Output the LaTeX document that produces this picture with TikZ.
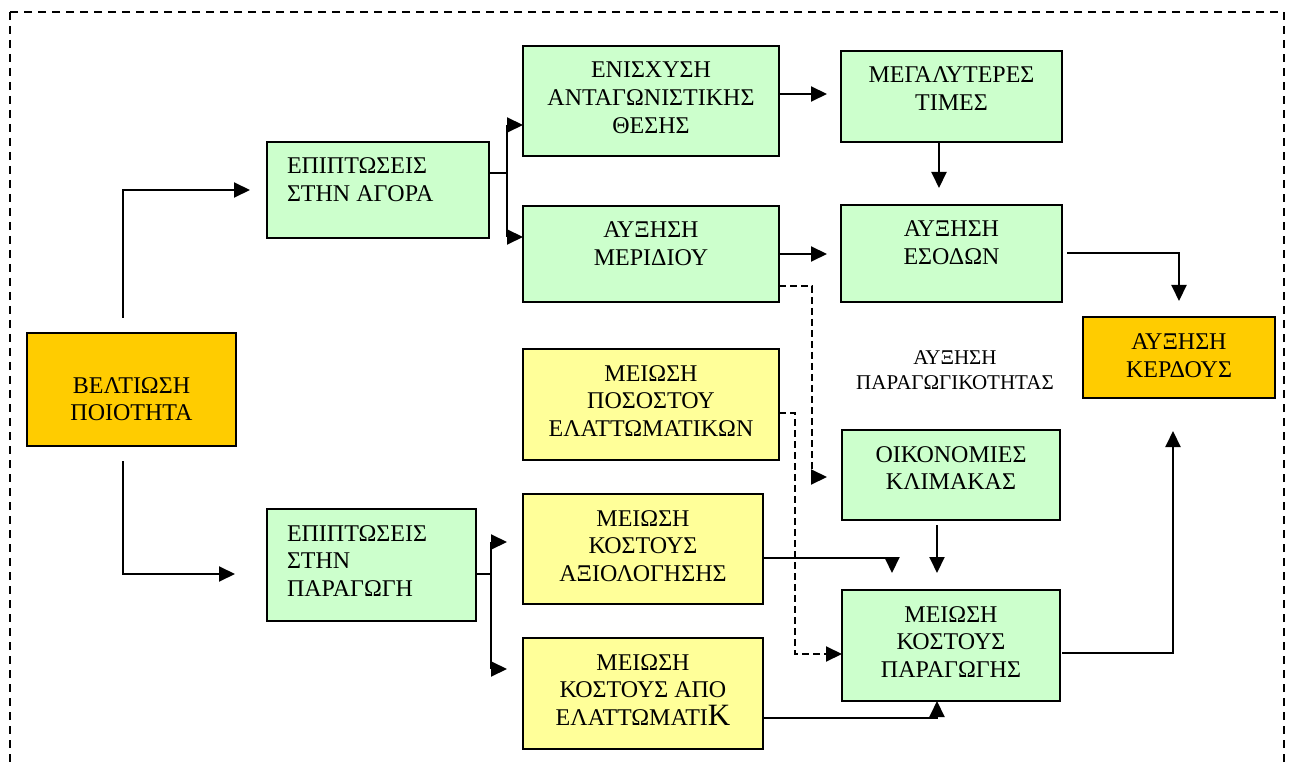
\documentclass[tikz,border=0pt]{standalone}
\usepackage{fontspec}
\setmainfont{Liberation Serif}
\usetikzlibrary{arrows.meta,calc}

\definecolor{boxgreen}{HTML}{CCFFCC}
\definecolor{boxyellow}{HTML}{FFFF99}
\definecolor{boxgold}{HTML}{FFCC00}

% Box contents: fixed size, text hung from the top edge
\newcommand{\cbox}[4][32pt]{\parbox[c][#3][t]{#2}{\centering\rule{0pt}{#1}#4\par}}
\newcommand{\lbox}[3]{\parbox[c][#2][t]{#1}{\raggedright\leftskip=20pt\rule{0pt}{32pt}#3\par}}

\begin{document}
\begin{tikzpicture}[x=1pt,y=-1pt,
  every node/.style={font=\fontsize{24}{27.6}\selectfont},
  box/.style={draw, line width=2pt, inner sep=0pt, outer sep=0pt},
  greenbox/.style={box, fill=boxgreen},
  yellowbox/.style={box, fill=boxyellow},
  goldbox/.style={box, fill=boxgold},
  link/.style={line width=2pt},
  arr/.style={link, -{Triangle[length=16pt,width=15pt]}},
  darr/.style={arr, dash pattern=on 7pt off 4pt},
  frame/.style={line width=1.8pt, dash pattern=on 8pt off 6pt},
  lbl/.style={align=center, inner sep=0pt, font=\fontsize{21}{25}\selectfont}]

\useasboundingbox (0,0) rectangle (1291,767);
\draw[frame] (10,12) rectangle (1284,800);

% boxes
\node[goldbox]   (bel)       at (131.5,389.5) {\cbox[60pt]{209pt}{113pt}{ΒΕΛΤΙΩΣΗ\\ΠΟΙΟΤΗΤΑ}};
\node[greenbox]  (agora)     at (378,190)     {\lbox{222pt}{96pt}{ΕΠΙΠΤΩΣΕΙΣ\\ΣΤΗΝ ΑΓΟΡΑ}};
\node[greenbox]  (parag)     at (371.5,565)   {\lbox{209pt}{112pt}{ΕΠΙΠΤΩΣΕΙΣ\\ΣΤΗΝ\\ΠΑΡΑΓΩΓΗ}};
\node[greenbox]  (enis)      at (651,101)     {\cbox{256pt}{110pt}{ΕΝΙΣΧΥΣΗ\\ΑΝΤΑΓΩΝΙΣΤΙΚΗΣ\\ΘΕΣΗΣ}};
\node[greenbox]  (meridiou)  at (651,254)     {\cbox{256pt}{96pt}{ΑΥΞΗΣΗ\\ΜΕΡΙΔΙΟΥ}};
\node[yellowbox] (posost)    at (651,404.5)   {\cbox{256pt}{111pt}{ΜΕΙΩΣΗ\\ΠΟΣΟΣΤΟΥ\\ΕΛΑΤΤΩΜΑΤΙΚΩΝ}};
\node[yellowbox] (axiol)     at (643,549)     {\cbox{240pt}{110pt}{ΜΕΙΩΣΗ\\ΚΟΣΤΟΥΣ\\ΑΞΙΟΛΟΓΗΣΗΣ}};
\node[yellowbox] (apo)       at (643,693.5)   {\cbox{240pt}{111pt}{ΜΕΙΩΣΗ\\ΚΟΣΤΟΥΣ ΑΠΟ\\ΕΛΑΤΤΩΜΑΤΙ{\fontsize{31}{31}\selectfont K}}};
\node[greenbox]  (megal)     at (951.5,96.5)  {\cbox{221pt}{91pt}{ΜΕΓΑΛΥΤΕΡΕΣ\\ΤΙΜΕΣ}};
\node[greenbox]  (esodon)    at (951.5,253.5) {\cbox{221pt}{97pt}{ΑΥΞΗΣΗ\\ΕΣΟΔΩΝ}};
\node[greenbox]  (oikon)     at (951,475)     {\cbox{218pt}{90pt}{ΟΙΚΟΝΟΜΙΕΣ\\ΚΛΙΜΑΚΑΣ}};
\node[greenbox]  (paragogis) at (951,645.5)   {\cbox{218pt}{111pt}{ΜΕΙΩΣΗ\\ΚΟΣΤΟΥΣ\\ΠΑΡΑΓΩΓΗΣ}};
\node[goldbox]   (kerdous)   at (1179,357.5)  {\cbox[33pt]{192pt}{81pt}{ΑΥΞΗΣΗ\\ΚΕΡΔΟΥΣ}};

\node[lbl] (prodlbl) at (955,370) {ΑΥΞΗΣΗ\\ΠΑΡΑΓΩΓΙΚΟΤΗΤΑΣ};

% quality improvement splits into market and production effects
\draw[arr, shorten >=17pt] ([xshift=-8.5pt,yshift=15pt]bel.north) |- (agora.west);
\draw[arr, shorten >=32pt] ([xshift=-8.5pt,yshift=-15pt]bel.south) |- ([yshift=-9pt]parag.west);

% market branch
\draw[link] ([yshift=17pt]agora.east) -- ++(18pt,0) coordinate (spa);
\coordinate (ea) at ([yshift=31pt]enis.south west);
\coordinate (ma) at ([yshift=-31pt]meridiou.north west);
\draw[link] (spa |- ea) -- (spa |- ma);
\draw[arr] (spa |- ea) -- (ea);
\draw[arr] (spa |- ma) -- (ma);

\coordinate (me) at ([yshift=7pt]enis.east);
\draw[arr, shorten >=14pt] (me) -- (me -| megal.west);
\draw[arr, shorten >=17pt] ([xshift=-12.5pt]megal.south) -- ([xshift=-12.5pt]esodon.north);
\draw[arr, shorten >=14pt] (meridiou.east) -- (meridiou.east -| esodon.west);
\draw[arr, shorten <=5pt, shorten >=16pt] (esodon.east) -| (kerdous.north);

% productivity links (dashed)
\draw[darr, shorten >=15pt] ([yshift=-32pt]meridiou.east) -- ++(33pt,0) |- ([yshift=-2pt]oikon.west);
\draw[darr] ([yshift=-8.5pt]posost.east) -- ++(16pt,0) |- ([yshift=-8.5pt]paragogis.west);

% production branch
\draw[link] ([yshift=-9pt]parag.east) -- ++(15pt,0) coordinate (spp);
\coordinate (xa) at ([xshift=-16pt,yshift=7pt]axiol.west);
\coordinate (pa) at ([xshift=-16pt,yshift=24.5pt]apo.west);
\draw[link] (spp |- xa) -- (spp |- pa);
\draw[arr] (spp |- xa) -- (xa);
\draw[arr] (spp |- pa) -- (pa);

\draw[arr, shorten >=17pt] ([yshift=-9pt]axiol.east) -| ([xshift=50pt]paragogis.north west);
\draw[arr, shorten <=5pt, shorten >=17pt] ([xshift=-14pt]oikon.south) -- ([xshift=-14pt]paragogis.north);
\draw[arr] ([yshift=-24.5pt]apo.east) -| ([xshift=-14pt]paragogis.south);
\draw[arr, shorten <=2pt, shorten >=33pt] ([yshift=-7.5pt]paragogis.east) -| ([xshift=-6pt]kerdous.south);

\end{tikzpicture}
\end{document}
